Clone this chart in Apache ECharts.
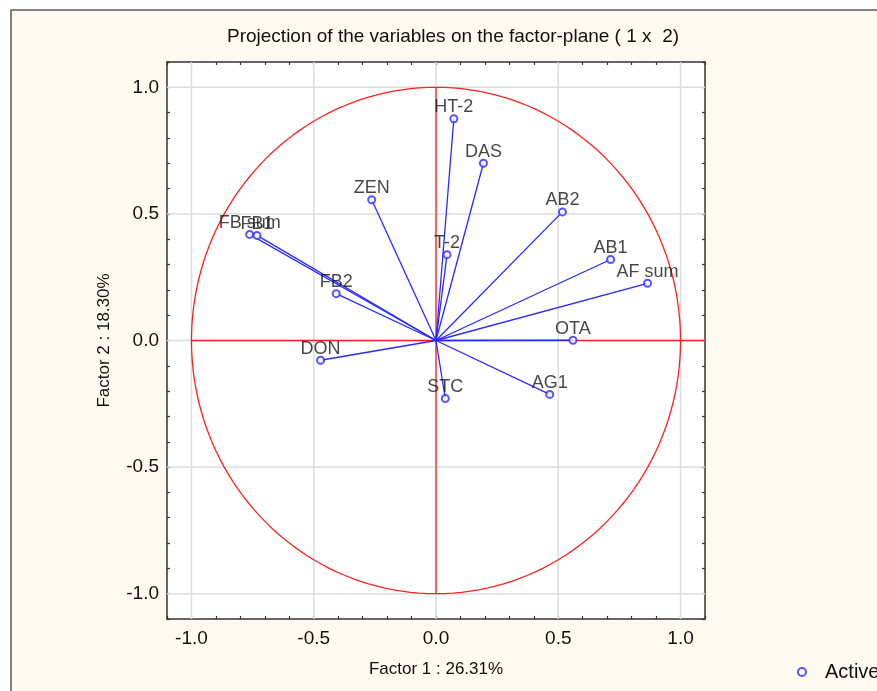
<!DOCTYPE html>
<html><head><meta charset="utf-8">
<script src="https://cdn.jsdelivr.net/npm/echarts@6/dist/echarts.min.js"></script>
<style>html,body{margin:0;padding:0;background:#fff;}#c{width:877px;height:691px;}</style>
</head><body><div id="c"></div>
<script>
// ---- data ----
const variables = ['HT-2','DAS','AB2','T-2','AB1','AF sum','OTA','AG1','ZEN','FB sum','FB1','FB2','DON','STC'];
const factor1 = [0.073, 0.194, 0.517, 0.045, 0.714, 0.865, 0.560, 0.465, -0.263, -0.762, -0.732, -0.408, -0.472, 0.038];
const factor2 = [0.876, 0.700, 0.508, 0.339, 0.320, 0.226, 0.001, -0.213, 0.556, 0.419, 0.415, 0.185, -0.078, -0.229];
const tickValues = [-1.0, -0.5, 0.0, 0.5, 1.0];
const refLines = [[-1, 0, 1.1, 0], [0, -1, 0, 1]];
const unitRadius = [1];

const FONT = "'Liberation Sans', Arial, sans-serif";
const BLUE = '#2a2aff';
const RED = '#ff2020';
const INK = '#111';

function tickFmt(v) {
  const r = Math.round(v * 10);
  if (r % 5 !== 0) return '';
  const val = r / 10;
  return (val === 0 ? 0 : val).toFixed(1);
}
function makeAxis(pos, show) {
  return {
    type: 'value', position: pos, min: -1.1, max: 1.1, interval: 0.1,
    axisLine: { show: true, onZero: false, lineStyle: { color: '#333', width: 1.5 } },
    axisTick: { show: true, inside: true, length: 3, lineStyle: { color: '#333', width: 1.2 } },
    axisLabel: { show: show, formatter: tickFmt, fontFamily: FONT, fontSize: 19, color: INK, margin: pos === 'bottom' ? 10 : 8 },
    splitLine: { show: false }
  };
}
const xBottom = makeAxis('bottom', true);
xBottom.name = 'Factor 1 : 26.31%';
xBottom.nameLocation = 'middle';
xBottom.nameGap = 42;
xBottom.nameTextStyle = { fontFamily: FONT, fontSize: 17, color: INK };
const yLeft = makeAxis('left', true);
yLeft.name = 'Factor 2 : 18.30%';
yLeft.nameLocation = 'middle';
yLeft.nameGap = 54;
yLeft.nameTextStyle = { fontFamily: FONT, fontSize: 17, color: INK };
const xTop = makeAxis('top', false);
const yRight = makeAxis('right', false);

const chart = echarts.init(document.getElementById('c'));
chart.setOption({
  animation: false,
  backgroundColor: 'transparent',
  graphic: [{
    type: 'rect', z: -10, silent: true,
    shape: { x: 11, y: 10, width: 900, height: 700 },
    style: { fill: '#fffaf0', stroke: '#5a5a5a', lineWidth: 1.5 }
  }],
  title: {
    text: 'Projection of the variables on the factor-plane ( 1 x  2)',
    left: 222, top: 22,
    textStyle: { fontFamily: FONT, fontSize: 19, fontWeight: 'normal', color: INK }
  },
  legend: {
    data: ['Active'], left: 792, top: 657, itemWidth: 36, itemHeight: 8, itemGap: 8,
    textStyle: { fontFamily: FONT, fontSize: 20, color: INK }
  },
  grid: { left: 167, top: 62, width: 538, height: 557, show: true, backgroundColor: '#fff', borderWidth: 0 },
  xAxis: [xBottom, xTop],
  yAxis: [yLeft, yRight],
  series: [
    { // grid lines
      type: 'custom', silent: true, z: 1, xAxisIndex: 0, yAxisIndex: 0,
      data: tickValues.map(v => [v]),
      renderItem: (params, api) => {
        const v = api.value(0);
        const a = api.coord([v, -1.1]), b = api.coord([v, 1.1]);
        const c = api.coord([-1.1, v]), d = api.coord([1.1, v]);
        const st = { stroke: '#dcdcdc', lineWidth: 1.5 };
        return { type: 'group', children: [
          { type: 'line', shape: { x1: a[0], y1: a[1], x2: b[0], y2: b[1] }, style: st },
          { type: 'line', shape: { x1: c[0], y1: c[1], x2: d[0], y2: d[1] }, style: st }
        ]};
      }
    },
    { // unit circle
      type: 'custom', silent: true, z: 2, xAxisIndex: 0, yAxisIndex: 0,
      data: unitRadius.map(r => [0, 0, r]),
      renderItem: (params, api) => {
        const r = api.value(2);
        const pts = [];
        for (let k = 0; k <= 360; k += 2) {
          const t = k * Math.PI / 180;
          pts.push(api.coord([r * Math.cos(t), r * Math.sin(t)]));
        }
        return { type: 'polyline', shape: { points: pts }, style: { stroke: RED, lineWidth: 1.3, fill: null } };
      }
    },
    { // red reference axes
      type: 'custom', silent: true, z: 2, xAxisIndex: 0, yAxisIndex: 0,
      data: refLines,
      renderItem: (params, api) => {
        const a = api.coord([api.value(0), api.value(1)]);
        const b = api.coord([api.value(2), api.value(3)]);
        return { type: 'line', shape: { x1: a[0], y1: a[1], x2: b[0], y2: b[1] }, style: { stroke: RED, lineWidth: 1.3 } };
      }
    },
    { // vectors
      type: 'custom', silent: true, z: 3, xAxisIndex: 0, yAxisIndex: 0,
      data: variables.map((n, i) => [factor1[i], factor2[i]]),
      renderItem: (params, api) => {
        const o = api.coord([0, 0]);
        const p = api.coord([api.value(0), api.value(1)]);
        return { type: 'line', shape: { x1: o[0], y1: o[1], x2: p[0], y2: p[1] }, style: { stroke: BLUE, lineWidth: 1.3 } };
      }
    },
    {
      name: 'Active', type: 'scatter', z: 4, xAxisIndex: 0, yAxisIndex: 0,
      symbol: 'emptyCircle', symbolSize: 7,
      itemStyle: { color: BLUE, borderColor: BLUE, borderWidth: 1.5 },
      label: {
        show: true, position: 'top', distance: -2, formatter: p => p.name,
        fontFamily: FONT, fontSize: 18, color: '#161616'
      },
      labelLayout: { hideOverlap: false },
      data: variables.map((n, i) => ({ name: n, value: [factor1[i], factor2[i]] }))
    }
  ]
});
</script>
</body></html>
